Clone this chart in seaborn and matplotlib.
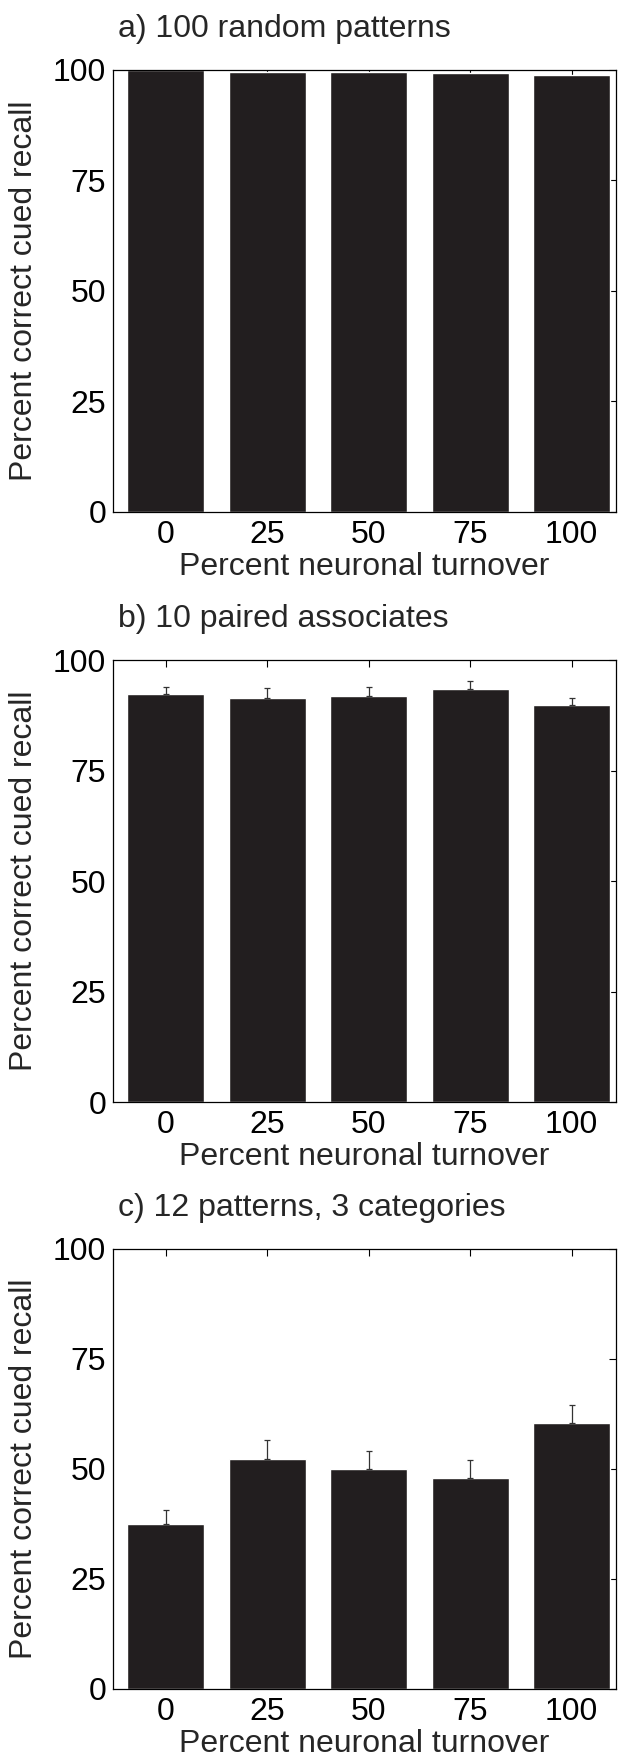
import numpy as np
import pandas as pd
import seaborn as sns
import matplotlib
matplotlib.use("Agg")
import matplotlib.pyplot as plt

# Data
turnover = ["0", "25", "50", "75", "100"]

recall_a = [100.0, 99.5, 99.5, 99.3, 98.9]
err_a = [0.0, 0.0, 0.0, 0.0, 0.0]

recall_b = [92.2, 91.4, 91.8, 93.5, 89.9]
err_b = [1.8, 2.2, 2.1, 1.7, 1.6]

recall_c = [37.5, 52.3, 50.0, 48.0, 60.5]
err_c = [3.2, 4.3, 4.0, 4.0, 4.0]

titles = ["a) 100 random patterns", "b) 10 paired associates",
          "c) 12 patterns, 3 categories"]

sns.set_style("white")
plt.rcParams['font.family'] = ['Liberation Sans', 'DejaVu Sans']
plt.rcParams['axes.linewidth'] = 0.9

FS = 23

fig = plt.figure(figsize=(6.18, 17.61), dpi=100)

# axes boxes in figure fractions (left, bottom, width, height)
boxes = [
    [0.183, 0.7093, 0.814, 0.251],
    [0.183, 0.3742, 0.814, 0.251],
    [0.183, 0.0409, 0.814, 0.2499],
]

bar_color = "#221e1f"
panels = [(recall_a, err_a), (recall_b, err_b), (recall_c, err_c)]

for box, title, (vals, errs) in zip(boxes, titles, panels):
    ax = fig.add_axes(box)
    df = pd.DataFrame({"turnover": turnover, "recall": vals})
    sns.barplot(data=df, x="turnover", y="recall", color=bar_color,
                saturation=1, width=0.76, errorbar=None, ax=ax)

    # one-sided error bars (upper only), as in the original
    errs = np.array(errs)
    if errs.any():
        ax.errorbar(np.arange(len(vals)), vals,
                    yerr=[np.zeros_like(errs), errs], fmt="none",
                    ecolor="#333333", elinewidth=0.9, capsize=2,
                    capthick=0.9, zorder=3)

    ax.set_xlim(-0.52, 4.44)
    ax.set_ylim(0, 100)
    ax.set_yticks([0, 25, 50, 75, 100])
    ax.set_yticklabels(["0", "25", "50", "75", "100"])

    for s in ax.spines.values():
        s.set_visible(True)
        s.set_color("black")

    ax.tick_params(axis="both", direction="in", length=5, width=0.8,
                   top=True, right=True, labelsize=FS, colors="black")
    ax.tick_params(axis="x", pad=6)
    ax.tick_params(axis="y", pad=5)

    ax.set_xlabel("Percent neuronal turnover", fontsize=FS, labelpad=1)
    ax.set_ylabel("Percent correct cued recall", fontsize=FS)
    ax.yaxis.set_label_coords(-0.147, 0.5)

    ax.text(0.01, 1 + 33 / 442, title, transform=ax.transAxes,
            fontsize=FS, ha="left", va="baseline")

fig.savefig("out.png", dpi=100)
